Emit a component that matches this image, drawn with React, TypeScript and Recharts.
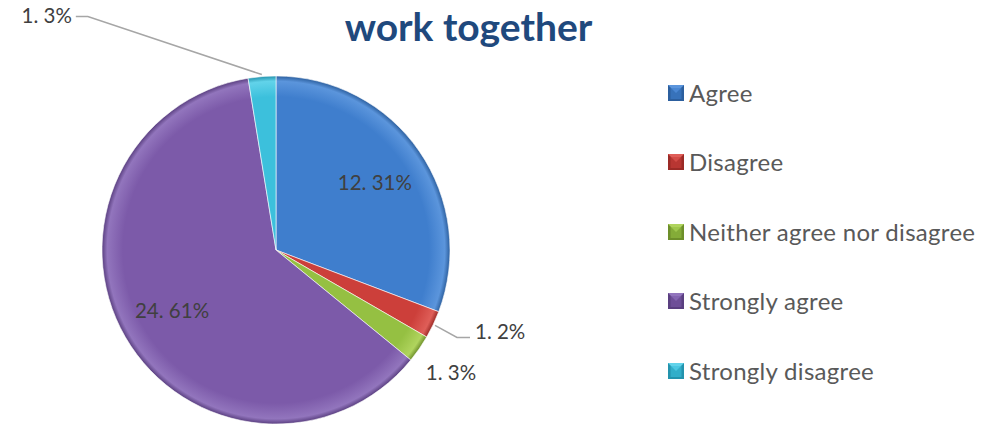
import React from "react";
import { PieChart, Pie, Cell, Legend } from "recharts";

const categories = ["Agree", "Disagree", "Neither agree nor disagree", "Strongly agree", "Strongly disagree"];
const counts = [12, 1, 1, 24, 1];
const pctLabels = ["31%", "2%", "3%", "61%", "3%"];
const colors = ["#3f7ecd", "#cc3f3a", "#95c042", "#7c5aa9", "#3cc0dc"];
const darkColors = ["#2c5f9e", "#9b2a26", "#6d8f2a", "#5a3f80", "#2393ad"];
const lightColors = ["#5b95dc", "#df5e58", "#b0d45e", "#9275bd", "#62d3ea"];

const data = categories.map((name, i) => ({ name, value: counts[i], pct: pctLabels[i] }));

const FONT = "Lato, 'Open Sans', sans-serif";
const RAD = Math.PI / 180;

const renderLabel = (props: any) => {
  const { cx, cy, midAngle, outerRadius, index, value } = props;
  const text = `${value}. ${pctLabels[index]}`;
  const cos = Math.cos(-midAngle * RAD);
  const sin = Math.sin(-midAngle * RAD);
  const style = { fontFamily: FONT, fontSize: 20.5, fill: "#404040" };
  if (index === 0 || index === 3) {
    const r = outerRadius * 0.69;
    return (
      <text x={cx + r * cos} y={cy + r * sin} textAnchor="middle" dominantBaseline="central" {...style}>
        {text}
      </text>
    );
  }
  const ex = cx + (outerRadius + 2) * cos;
  const ey = cy + (outerRadius + 2) * sin;
  if (index === 1) {
    return (
      <g>
        <polyline points={`${ex},${ey} ${ex + 22},${ey + 12} ${ex + 35},${ey + 12}`} fill="none" stroke="#a6a6a6" strokeWidth={1.5} />
        <text x={ex + 40} y={ey + 6} dominantBaseline="central" {...style}>{text}</text>
      </g>
    );
  }
  if (index === 2) {
    return (
      <text x={ex + 5} y={ey + 22} dominantBaseline="central" {...style}>{text}</text>
    );
  }
  return (
    <g>
      <polyline points={`${ex},${ey} ${ex - 174},${ey - 58} ${ex - 186},${ey - 58}`} fill="none" stroke="#a6a6a6" strokeWidth={1.5} />
      <text x={ex - 190} y={ey - 60} textAnchor="end" dominantBaseline="central" {...style}>{text}</text>
    </g>
  );
};

const renderLegend = (props: any) => {
  const { payload } = props;
  return (
    <div style={{ fontFamily: FONT }}>
      {(payload || []).map((entry: any, i: number) => {
        const idx = categories.indexOf(entry.value);
        return (
          <div key={i} style={{ display: "flex", alignItems: "center", height: 69.5 }}>
            <svg width={16} height={16} style={{ marginRight: 5 }}>
              <rect x={0} y={0} width={16} height={16} fill={darkColors[idx]} />
              <polygon points="0,0 16,0 8,8" fill={lightColors[idx]} />
              <rect x={2.5} y={3} width={11} height={11} fill={colors[idx]} opacity={0.6} />
            </svg>
            <span style={{ fontSize: 24, color: "#595959", lineHeight: "24px", letterSpacing: 0.3 }}>{entry.value}</span>
          </div>
        );
      })}
    </div>
  );
};

export default function App() {
  return (
    <div style={{ position: "absolute", left: 0, top: 0, width: 1004, height: 427, background: "#fff" }}>
      <div
        style={{
          position: "absolute",
          left: 0,
          width: 937,
          top: 2,
          textAlign: "center",
          fontFamily: FONT,
          fontWeight: 700,
          fontSize: 39,
          color: "#1f497d",
          lineHeight: "48px",
        }}
      >
        work together
      </div>
      <PieChart width={1004} height={427} margin={{ top: 0, left: 0, right: 0, bottom: 0 }}>
        <defs>
          {colors.map((c, i) => (
            <radialGradient key={i} id={`g${i}`} cx={276} cy={250} r={174} gradientUnits="userSpaceOnUse">
              <stop offset="0%" stopColor={colors[i]} />
              <stop offset="88%" stopColor={colors[i]} />
              <stop offset="97%" stopColor={lightColors[i]} />
              <stop offset="100%" stopColor={darkColors[i]} />
            </radialGradient>
          ))}
        </defs>
        <Pie
          data={data}
          dataKey="value"
          nameKey="name"
          cx={276}
          cy={250}
          outerRadius={174}
          startAngle={90}
          endAngle={-270}
          isAnimationActive={false}
          label={renderLabel}
          labelLine={false}
          stroke={"#ffffff"}
          strokeWidth={0.6}
        >
          {data.map((_, i) => (
            <Cell key={i} fill={`url(#g${i})`} />
          ))}
        </Pie>
        <Legend
          layout="vertical"
          verticalAlign="top"
          align="right"
          content={renderLegend}
          wrapperStyle={{ position: "absolute", left: 668, top: 58, width: 336 }}
        />
      </PieChart>
    </div>
  );
}
